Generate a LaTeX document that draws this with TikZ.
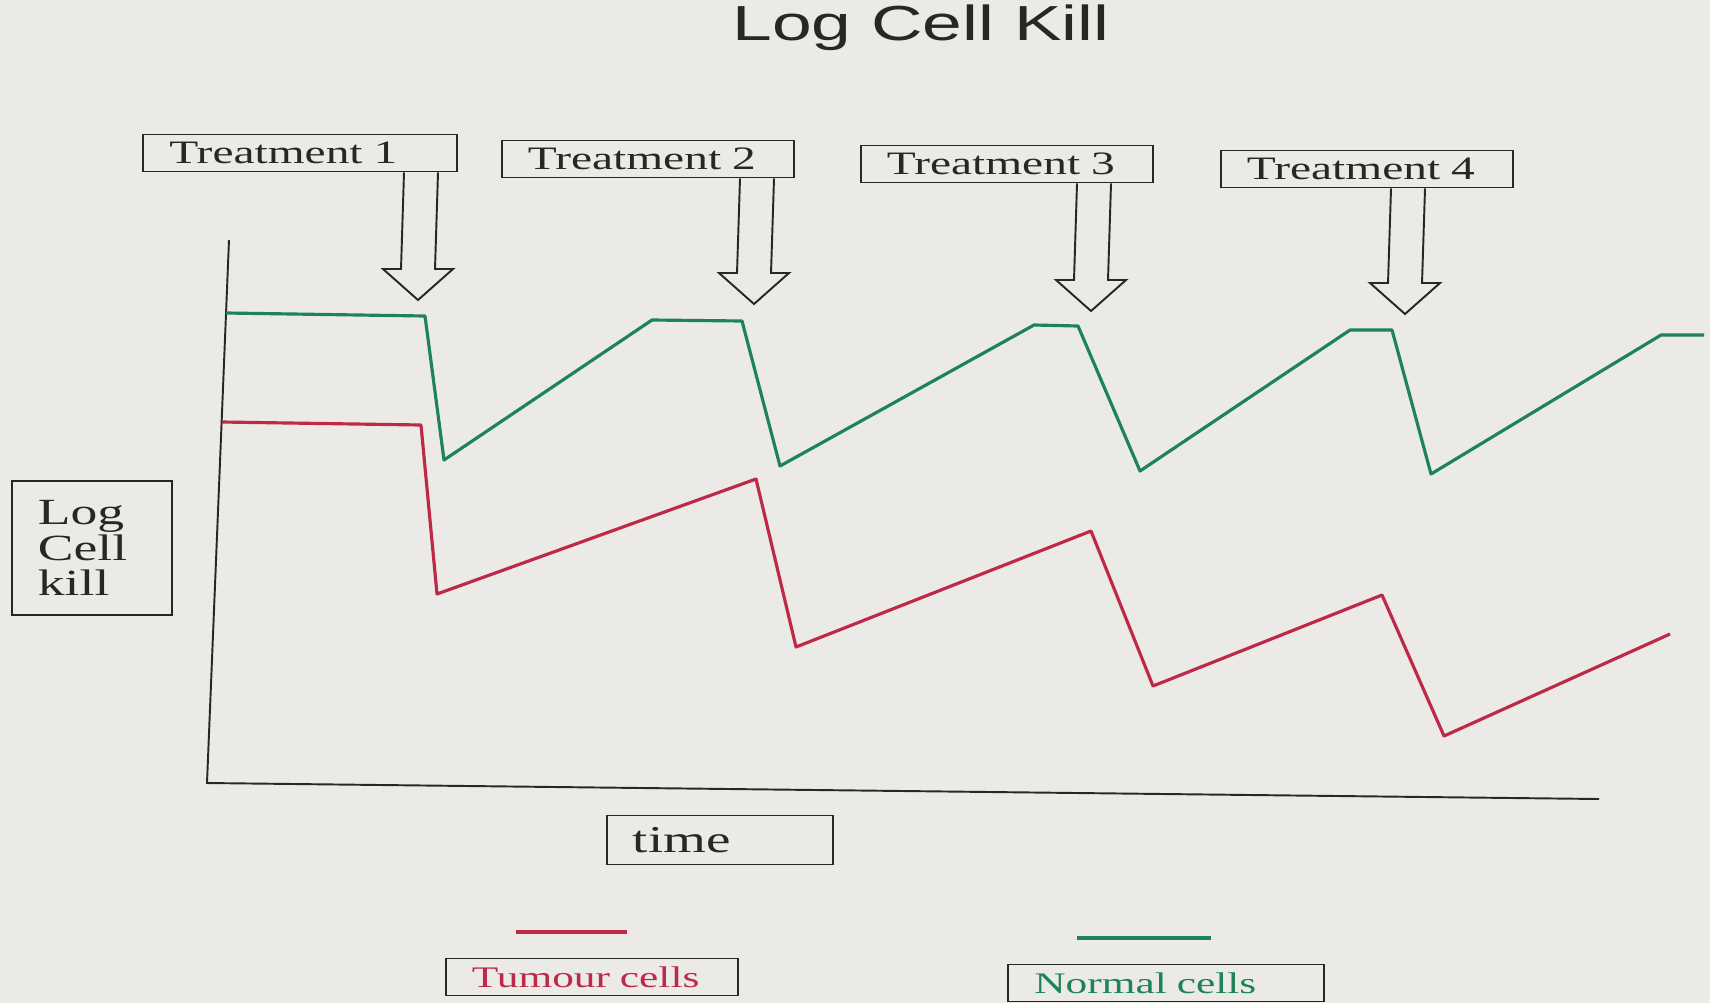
\documentclass[tikz,border=0pt]{standalone}
\usepackage{fontspec}
\setmainfont{Liberation Serif}[FakeStretch=1.45]
\newfontfamily\headfont{Liberation Sans}[FakeStretch=1.45]
\usetikzlibrary{calc, positioning}
\definecolor{paper}{RGB}{236,234,230}
\definecolor{ink}{RGB}{38,40,38}
\definecolor{normalgreen}{RGB}{28,132,86}
\definecolor{tumourred}{RGB}{188,42,72}

\begin{document}
\begin{tikzpicture}[
    x=0.01cm, y=-0.01cm,
    label box/.style={draw=ink, text=ink, line width=0.55pt, inner xsep=0.26cm, inner ysep=1pt, align=left},
    treat node/.style={label box, text width=#1, minimum height=0.37cm, font=\fontsize{9.3}{10}\selectfont},
    key node/.style={label box, text width=#1, minimum height=0.37cm, font=\fontsize{8.5}{10}\selectfont},
    hollow arrow/.style={draw=ink, line width=0.55pt, line join=miter},
    axis line/.style={ink, line width=0.55pt},
    normal curve/.style={normalgreen, line width=0.9pt, line join=round},
    tumour curve/.style={tumourred, line width=0.9pt, line join=round}
]
\fill[paper] (0,0) rectangle (1710,1003);
\useasboundingbox (0,0) rectangle (1710,1003);

% Title
\node[text=ink, font=\headfont\fontsize{14}{16}\selectfont, anchor=base] (title) at (921,40) {Log Cell Kill};

% Treatment boxes
\node[treat node=2.61cm] (t1) at (300,153) {Treatment 1};
\node[treat node=2.40cm] (t2) at (648,159) {Treatment 2};
\node[treat node=2.40cm] (t3) at (1007,164) {Treatment 3};
\node[treat node=2.40cm] (t4) at (1367,169) {Treatment 4};

% Arrow tips
\coordinate (tip1) at (418,300);
\coordinate (tip2) at (754,304);
\coordinate (tip3) at (1091,311);
\coordinate (tip4) at (1405,314);

% Hollow arrows
\draw[hollow arrow] ($(tip1 |- t1.south)+(-14,0)$) -- ($(tip1)+(-17,-31)$) -- ($(tip1)+(-35,-31)$) -- (tip1) -- ($(tip1)+(35,-31)$) -- ($(tip1)+(17,-31)$) -- ($(tip1 |- t1.south)+(20,0)$);
\draw[hollow arrow] ($(tip2 |- t2.south)+(-14,0)$) -- ($(tip2)+(-17,-31)$) -- ($(tip2)+(-35,-31)$) -- (tip2) -- ($(tip2)+(35,-31)$) -- ($(tip2)+(17,-31)$) -- ($(tip2 |- t2.south)+(20,0)$);
\draw[hollow arrow] ($(tip3 |- t3.south)+(-14,0)$) -- ($(tip3)+(-17,-31)$) -- ($(tip3)+(-35,-31)$) -- (tip3) -- ($(tip3)+(35,-31)$) -- ($(tip3)+(17,-31)$) -- ($(tip3 |- t3.south)+(20,0)$);
\draw[hollow arrow] ($(tip4 |- t4.south)+(-14,0)$) -- ($(tip4)+(-17,-31)$) -- ($(tip4)+(-35,-31)$) -- (tip4) -- ($(tip4)+(35,-31)$) -- ($(tip4)+(17,-31)$) -- ($(tip4 |- t4.south)+(20,0)$);

% Axes
\coordinate (ytop) at (229,240);
\coordinate (origin) at (207,783);
\coordinate (xend) at (1599,799);
\draw[axis line] (ytop) -- (origin) -- (xend);

% Axis labels
\node[label box, text width=1.08cm, minimum height=1.34cm, font=\fontsize{10.5}{10}\selectfont] (ylabel) at (92,548) {Log\\Cell\\kill};
\node[label box, text width=1.74cm, minimum height=0.49cm, font=\fontsize{10.8}{12}\selectfont] (xlabel) at (720,840) {time};

% Normal cells
\draw[normal curve] plot coordinates {(226,313) (425,316) (444,460) (652,320) (742,321) (780,466) (1034,325) (1078,326) (1140,471) (1350,330) (1392,330) (1431,474) (1661,335) (1704,335)};

% Tumour cells
\draw[tumour curve] plot coordinates {(222,422) (421,425) (437,594) (756,479) (796,647) (1091,531) (1153,686) (1382,595) (1444,736) (1670,634)};

% Key
\draw[tumourred, line width=1.2pt] (516,932) -- (627,932);
\draw[normalgreen, line width=1.2pt] (1077,938) -- (1211,938);
\node[key node=2.40cm, text=tumourred] (tumourkey) at (592,977) {Tumour cells};
\node[key node=2.63cm, text=normalgreen] (normalkey) at (1166,983) {Normal cells};
\end{tikzpicture}
\end{document}
